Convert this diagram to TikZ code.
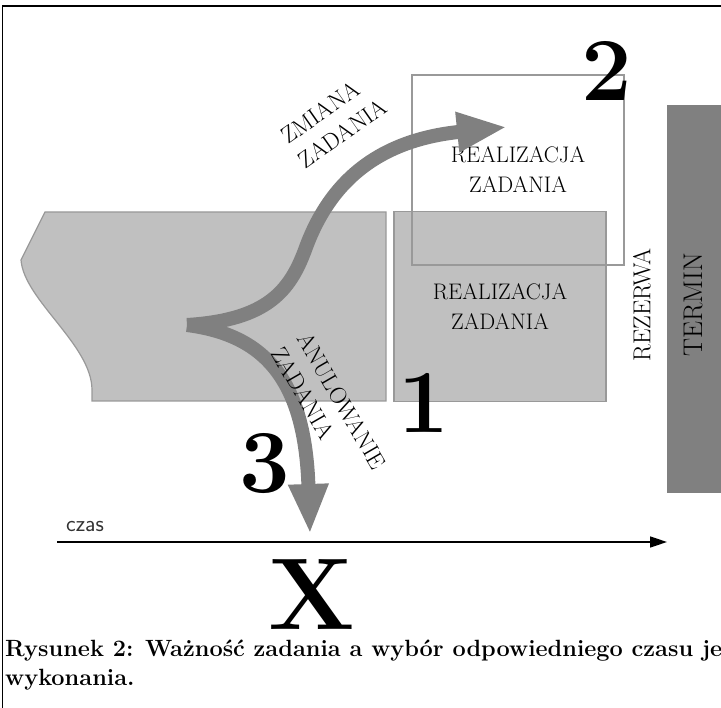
\documentclass[tikz,border=0pt]{standalone}
\usepackage{fontspec}
\usepackage{tikz}
\usetikzlibrary{arrows.meta,positioning}

\definecolor{taskgray}{HTML}{C0C0C0}
\definecolor{edgegray}{HTML}{999999}
\definecolor{flowgray}{HTML}{808080}

\begin{document}
\begin{tikzpicture}[x=1pt,y=-1pt,
        task/.style={draw=edgegray,line width=1.2pt,minimum width=212pt,minimum height=190pt,
                     align=center,font=\fontsize{22.5}{30}\selectfont},
        flow/.style={draw=flowgray,line width=14pt,-{Triangle[length=50pt,width=37pt]}},
        lbl/.style={font=\fontsize{23.5}{30}\selectfont,inner sep=0pt},
        bignum/.style={font=\fontsize{90}{90}\selectfont\bfseries,inner sep=0pt},
        caption/.style={font=\fontsize{23.5}{30}\selectfont\bfseries,anchor=base west,inner sep=0pt}]

  \useasboundingbox (0,0) rectangle (721,708);
  \draw[line width=1.5pt] (2.5,708) -- (2.5,6) -- (721,6);

  % task before the deadline
  \filldraw[fill=taskgray,draw=edgegray,line width=1.2pt]
    (386,212) -- (45,212) -- (21,260) .. controls (24,300) and (92,345) .. (92,390)
    -- (92,401) -- (386,401) -- cycle;

  \node[task,fill=taskgray] (real1) at (500,306.5) {REALIZACJA\\ZADANIA};
  \node[task] (real2) at (518,170) {REALIZACJA\\ZADANIA};

  % deadline
  \fill[flowgray] (667,105) rectangle (725,493);
  \node[lbl,font=\fontsize{27}{30}\selectfont,rotate=90] (termin) at (693,305) {TERMIN};
  \node[lbl,font=\fontsize{24.5}{30}\selectfont,rotate=90] (rezerwa) at (642,305) {REZERWA};

  % time axis
  \coordinate (t0) at (57,542);
  \coordinate (t1) at (667,542);
  \draw[line width=1.6pt,-{Triangle[length=17pt,width=11pt]}] (t0) -- (t1);
  \node[font=\fontsize{23}{26}\selectfont\sffamily,text=black!80,anchor=base west,inner sep=0pt]
    (czas) at (66,532) {czas};

  % change / cancel
  \coordinate (fork) at (187,325);
  \coordinate (zmEnd) at (507,127);
  \coordinate (anEnd) at (310,534);
  \draw[flow] (fork) .. controls (268,320) and (290,290) .. (305,250)
                     .. controls (330,180) and (380,140) .. (zmEnd);
  \draw[flow] (fork) .. controls (265,335) and (305,380) .. (anEnd);

  \node[lbl,rotate=35,align=left] (zmiana) at (334,121) {ZMIANA\\ZADANIA};
  \node[lbl,rotate=-60,align=left] (anul) at (329,408) {ANULOWANIE\\ZADANIA};

  \node[bignum] (n1) at (424,403) {1};
  \node[bignum] (n2) at (607,71) {2};
  \node[bignum] (n3) at (265,464) {3};
  \node[font=\fontsize{102}{102}\selectfont\bfseries,inner sep=0pt] (nx) at (312,595) {X};

  % caption
  \node[caption] (capA) at (5,656) {Rysunek 2: Ważność zadania a wybór odpowiedniego czasu jego};
  \node[caption] (capB) at (5,685) {wykonania.};

\end{tikzpicture}
\end{document}
